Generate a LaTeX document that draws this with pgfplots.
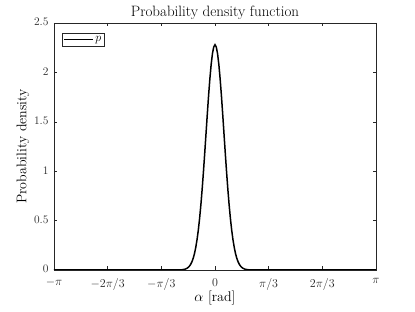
\documentclass[border=0pt]{standalone}
\usepackage{pgfplots}
\pgfplotsset{compat=1.18}
\definecolor{axgray}{gray}{0.15}
\begin{document}
\begin{tikzpicture}
\path[use as bounding box] (-54pt,-42pt) rectangle (361pt,270pt);
\begin{axis}[
  scale only axis,
  width=322pt, height=247pt,
  xmin=-3.14159265, xmax=3.14159265,
  ymin=0, ymax=2.5,
  xtick={-3.14159265,-2.0943951,-1.04719755,0,1.04719755,2.0943951,3.14159265},
  xticklabels={$-\pi$,$-2\pi/3$,$-\pi/3$,$0$,$\pi/3$,$2\pi/3$,$\pi$},
  ytick={0,0.5,1,1.5,2,2.5},
  yticklabels={0,0.5,1,1.5,2,2.5},
  tick align=inside,
  major tick length=3.5pt,
  axis line style={axgray, line width=0.5pt},
  every tick/.style={axgray, line width=0.5pt},
  tick label style={font=\fontsize{11.5}{13}\selectfont, text=axgray},
  xticklabel style={yshift=-5pt},
  yticklabel style={xshift=-2pt, yshift=1pt},
  title={Probability density function},
  title style={font=\fontsize{15}{17}\selectfont, yshift=-6pt},
  xlabel={$\alpha$ [rad]},
  ylabel={Probability density},
  label style={font=\fontsize{14}{16}\selectfont},
  xlabel style={yshift=6pt},
  ylabel style={yshift=-2pt},
  legend style={font=\fontsize{13}{15}\selectfont, draw=axgray, line width=0.5pt,
    at={(0.025,0.96)}, anchor=north west, inner sep=1pt},
  legend cell align=left,
  legend image code/.code={\draw[#1, line width=1.5pt] (0pt,0pt) -- (1cm,0pt);},
]
\addplot[black, line width=1.5pt] coordinates {
(-3.14159,0) (-1.5,0) (-1.0,0) (-0.8,0.00002) (-0.7,0.00076) (-0.65,0.0023) (-0.6,0.0064)
(-0.575,0.0103) (-0.55,0.0163) (-0.525,0.0253) (-0.5,0.0385) (-0.475,0.0573)
(-0.45,0.0836) (-0.425,0.119) (-0.4,0.167) (-0.375,0.230) (-0.35,0.309)
(-0.325,0.406) (-0.3,0.525) (-0.275,0.663) (-0.25,0.822) (-0.225,0.998)
(-0.2,1.187) (-0.175,1.383) (-0.15,1.579) (-0.125,1.767) (-0.1,1.936)
(-0.075,2.080) (-0.05,2.189) (-0.025,2.257) (0,2.28)
(0.025,2.257) (0.05,2.189) (0.075,2.080) (0.1,1.936) (0.125,1.767)
(0.15,1.579) (0.175,1.383) (0.2,1.187) (0.225,0.998) (0.25,0.822)
(0.275,0.663) (0.3,0.525) (0.325,0.406) (0.35,0.309) (0.375,0.230)
(0.4,0.167) (0.425,0.119) (0.45,0.0836) (0.475,0.0573) (0.5,0.0385)
(0.525,0.0253) (0.55,0.0163) (0.575,0.0103) (0.6,0.0064) (0.65,0.0023)
(0.7,0.00076) (0.8,0.00002) (1.0,0) (1.5,0) (3.14159,0)
};
\addlegendentry{$p$}
\end{axis}
\end{tikzpicture}
\end{document}
